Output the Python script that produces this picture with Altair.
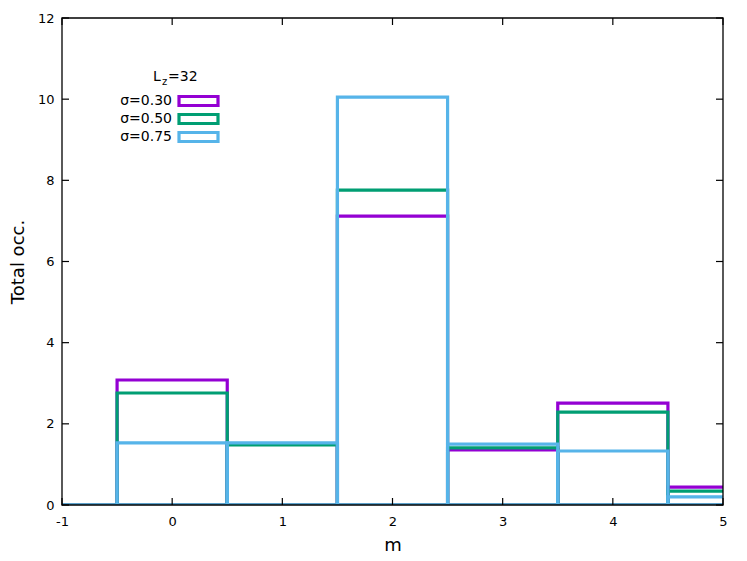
import altair as alt
import pandas as pd

m_values = [-1, 0, 1, 2, 3, 4, 5]
series_names = ["σ=0.30", "σ=0.50", "σ=0.75"]
occ_030 = [0.0, 3.08, 1.50, 7.12, 1.36, 2.51, 0.44]
occ_050 = [0.0, 2.76, 1.48, 7.76, 1.41, 2.29, 0.34]
occ_075 = [0.0, 1.53, 1.53, 10.05, 1.50, 1.33, 0.20]
colors = ["#9400D3", "#009E73", "#56B4E9"]
x_ticks = [-1, 0, 1, 2, 3, 4, 5]
y_ticks = [0, 2, 4, 6, 8, 10, 12]

W, H = 661, 487
FONT = "DejaVu Sans"

rows = []
for name, vals in zip(series_names, [occ_030, occ_050, occ_075]):
    for m, v in zip(m_values, vals):
        rows.append({"series": name, "m": m, "lo": m - 0.5, "hi": m + 0.5, "occ": v})
df = pd.DataFrame(rows)

xs = alt.Scale(domain=[-1, 5], nice=False, zero=False)
ys = alt.Scale(domain=[0, 12], nice=False)
stroke_scale = alt.Scale(domain=series_names, range=colors)

bars = alt.Chart(df).mark_rect(fill="transparent", strokeWidth=3.2, clip=True).encode(
    x=alt.X("lo:Q", scale=xs,
            axis=alt.Axis(values=x_ticks, labelExpr="'' + datum.value", title="m", grid=False,
                          domain=False, ticks=False,
                          labelPadding=10, titlePadding=8, labelFontSize=13, titleFontSize=18,
                          labelFont=FONT, titleFont=FONT, titleFontWeight="normal", labelColor="black",
                          titleColor="black", labelFlush=False)),
    x2="hi:Q",
    y=alt.Y("occ:Q", scale=ys,
            axis=alt.Axis(values=y_ticks, labelExpr="'' + datum.value", title="Total occ.", grid=False,
                          domain=False, ticks=False,
                          labelPadding=8, titlePadding=10, labelFontSize=13, titleFontSize=18,
                          labelFont=FONT, titleFont=FONT, titleFontWeight="normal", labelColor="black",
                          titleColor="black", labelFlush=False)),
    y2=alt.datum(0),
    stroke=alt.Stroke("series:N", scale=stroke_scale, legend=None),
)

frame = alt.Chart(pd.DataFrame({"k": [0]})).mark_rect(
    fill="transparent", stroke="black", strokeWidth=1.3).encode(
    x=alt.value(0), x2=alt.value(W), y=alt.value(0), y2=alt.value(H))

xt = pd.DataFrame({"t": x_ticks})
yt = pd.DataFrame({"t": y_ticks})
tick_style = dict(color="black", strokeWidth=1.2)
ticks_bottom = alt.Chart(xt).mark_rule(**tick_style).encode(
    x=alt.X("t:Q", scale=xs), y=alt.value(H), y2=alt.value(H - 7))
ticks_top = alt.Chart(xt).mark_rule(**tick_style).encode(
    x=alt.X("t:Q", scale=xs), y=alt.value(0), y2=alt.value(7))
ticks_left = alt.Chart(yt).mark_rule(**tick_style).encode(
    y=alt.Y("t:Q", scale=ys), x=alt.value(0), x2=alt.value(7))
ticks_right = alt.Chart(yt).mark_rule(**tick_style).encode(
    y=alt.Y("t:Q", scale=ys), x=alt.value(W), x2=alt.value(W - 7))

# legend (manual, gnuplot-style)
leg = pd.DataFrame({"series": series_names, "ypix": [83, 101, 119]})
leg_text = alt.Chart(leg).mark_text(align="right", baseline="middle", fontSize=14, font=FONT,
                                    color="black").encode(
    x=alt.value(110), y=alt.Y("ypix:Q", scale=None), text="series:N")
leg_box = alt.Chart(leg).mark_rect(fill="transparent", strokeWidth=3.2).transform_calculate(
    top="datum.ypix - 4.5", bot="datum.ypix + 4.5").encode(
    x=alt.value(117), x2=alt.value(156),
    y=alt.Y("top:Q", scale=None), y2=alt.Y2("bot:Q"),
    stroke=alt.Stroke("series:N", scale=stroke_scale, legend=None),
)

title_L = alt.Chart(pd.DataFrame({"s": ["L"]})).mark_text(
    align="left", baseline="alphabetic", fontSize=14, font=FONT, color="black").encode(
    x=alt.value(91), y=alt.value(63), text="s:N")
title_z = alt.Chart(pd.DataFrame({"s": ["z"]})).mark_text(
    align="left", baseline="alphabetic", fontSize=10, font=FONT, color="black").encode(
    x=alt.value(100), y=alt.value(67), text="s:N")
title_rest = alt.Chart(pd.DataFrame({"s": ["=32"]})).mark_text(
    align="left", baseline="alphabetic", fontSize=14, font=FONT, color="black").encode(
    x=alt.value(106), y=alt.value(63), text="s:N")

chart = alt.layer(
    bars, frame, ticks_bottom, ticks_top, ticks_left, ticks_right,
    leg_text, leg_box, title_L, title_z, title_rest
).properties(
    width=W, height=H,
    autosize=alt.AutoSizeParams(type="none"),
    padding={"left": 54, "top": 10, "right": 16, "bottom": 48},
).configure(background="white").configure_view(stroke=None if False else "transparent")

chart.save("out.html", embed_options={"renderer": "svg", "actions": False})
